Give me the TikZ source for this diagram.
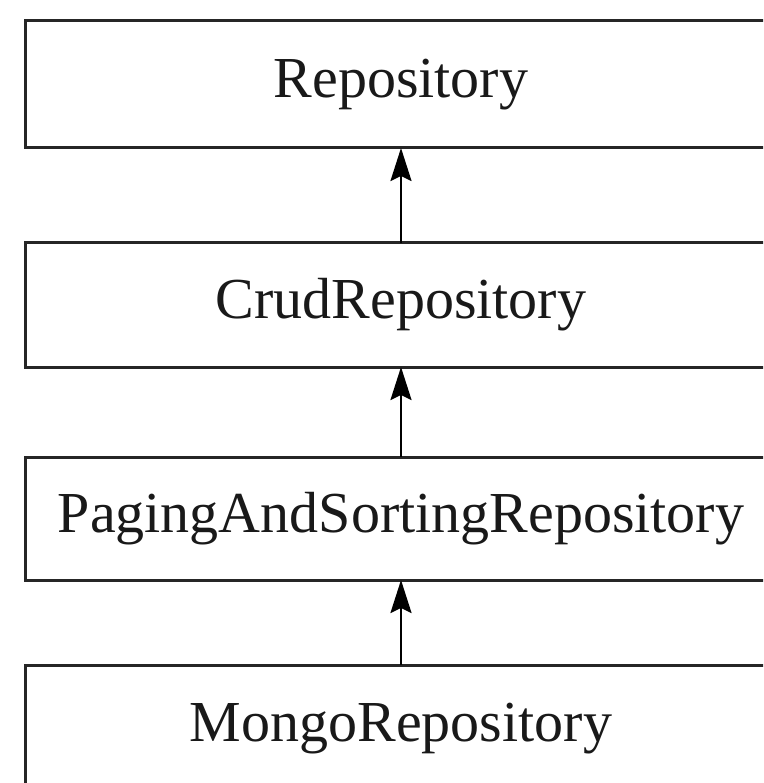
\documentclass[tikz,border=0pt]{standalone}
\usepackage{fontspec}
\setmainfont{Liberation Serif}
\usetikzlibrary{arrows.meta}
\newcommand{\lowertext}[1]{\raisebox{-3pt}{#1}}
\begin{document}
\begin{tikzpicture}[x=1pt,y=-1pt,
  box/.style={draw=black!85, line width=3pt, rectangle, minimum width=752pt, outer sep=0pt, inner sep=0pt, text=black!90, font=\fontsize{58}{60}\selectfont},
  arr/.style={line width=2.2pt, -{Stealth[length=33pt,width=21pt,inset=5pt]}}]
\clip (0,0) rectangle (763,783);
\fill[white] (0,0) rectangle (763,783);
\node[box, minimum height=127pt] (r) at (401,84.5) {\lowertext{Repository}};
\node[box, minimum height=124pt] (c) at (401,305) {\lowertext{CrudRepository}};
\node[box, minimum height=123pt] (p) at (401,518.5) {\lowertext{PagingAndSortingRepository}};
\node[box, minimum height=127pt] (m) at (401,728.5) {\lowertext{MongoRepository}};
\draw[arr] (c.north) -- (r.south);
\draw[arr] (p.north) -- (c.south);
\draw[arr] (m.north) -- (p.south);
\end{tikzpicture}
\end{document}
